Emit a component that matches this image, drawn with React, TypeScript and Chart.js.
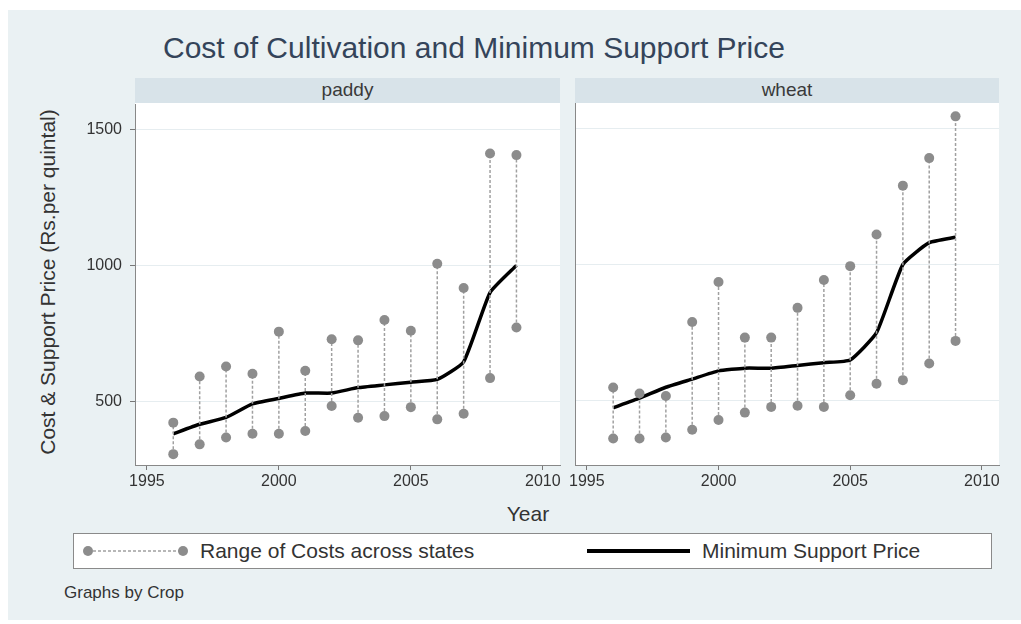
import React, { useEffect, useRef } from "react";
import { Chart, registerables } from "chart.js";
Chart.register(...registerables);

const years = [1996, 1997, 1998, 1999, 2000, 2001, 2002, 2003, 2004, 2005, 2006, 2007, 2008, 2009];

const paddyLow = [305, 341, 366, 380, 380, 390, 482, 439, 445, 478, 433, 454, 585, 771];
const paddyHigh = [421, 591, 628, 601, 756, 612, 728, 724, 799, 759, 1006, 917, 1412, 1406];
const paddyMSP = [380, 415, 440, 490, 510, 530, 530, 550, 560, 570, 580, 645, 900, 1000];

const wheatLow = [362, 362, 366, 394, 430, 457, 478, 482, 478, 521, 563, 576, 637, 720];
const wheatHigh = [549, 527, 518, 789, 936, 732, 732, 841, 943, 994, 1110, 1289, 1390, 1543];
const wheatMSP = [475, 510, 550, 580, 610, 620, 620, 630, 640, 650, 750, 1000, 1080, 1100];

const xTicks = [1995, 2000, 2005, 2010];
const yTicks = [500, 1000, 1500];

const FONT = "'Liberation Sans', Arial, sans-serif";

type PanelProps = {
  low: number[];
  high: number[];
  msp: number[];
  showY: boolean;
  left: number;
  width: number;
  top: number;
  height: number;
};

function Panel({ low, high, msp, showY, left, width, top, height }: PanelProps) {
  const ref = useRef<HTMLCanvasElement | null>(null);
  useEffect(() => {
    if (!ref.current) return;
    const rangeData: any[] = [];
    years.forEach((yr, i) => {
      rangeData.push({ x: yr, y: low[i] });
      rangeData.push({ x: yr, y: high[i] });
      rangeData.push({ x: yr, y: null });
    });
    const mspData = years.map((yr, i) => ({ x: yr, y: msp[i] }));
    const chart = new Chart(ref.current, {
      type: "line",
      data: {
        datasets: [
          {
            label: "Range of Costs across states",
            data: rangeData,
            borderColor: "#a0a0a0",
            borderWidth: 1.5,
            borderDash: [3, 2],
            pointRadius: 5,
            pointBackgroundColor: "#8c8c8c",
            pointBorderWidth: 0,
            spanGaps: false,
            tension: 0,
          },
          {
            label: "Minimum Support Price",
            data: mspData,
            borderColor: "#000000",
            borderWidth: 3.5,
            pointRadius: 0,
            tension: 0.15,
            borderJoinStyle: "round",
          },
        ],
      },
      options: {
        responsive: false,
        animation: false,
        layout: { padding: { top: 0, right: showY ? 5 : 6, left: 0, bottom: 0 } },
        plugins: { legend: { display: false }, tooltip: { enabled: false } },
        scales: {
          x: {
            type: "linear",
            min: 1994.55,
            max: 2010.65,
            afterBuildTicks: (s: any) => {
              s.ticks = xTicks.map((v) => ({ value: v }));
            },
            afterFit: (s: any) => {
              s.height = 30;
            },
            grid: { drawOnChartArea: false, drawTicks: true, tickLength: 5, tickColor: "#777" },
            border: { display: true, color: "#888", width: 1 },
            ticks: {
              color: "#333",
              font: { family: FONT, size: 16 },
              padding: 2,
              maxRotation: 0,
              callback: (v: any) => String(v),
            },
          },
          y: {
            type: "linear",
            min: 265,
            max: 1592,
            afterBuildTicks: (s: any) => {
              s.ticks = yTicks.map((v) => ({ value: v }));
            },
            afterFit: (s: any) => {
              s.width = showY ? 65 : 10;
            },
            grid: {
              color: "#e6edf0",
              lineWidth: 1,
              drawTicks: showY,
              tickLength: 5,
              tickColor: "#777",
            },
            border: { display: true, color: "#888", width: 1 },
            ticks: {
              display: showY,
              color: "#333",
              font: { family: FONT, size: 16 },
              padding: 8,
              callback: (v: any) => String(v),
            },
          },
        },
      },
    });
    return () => chart.destroy();
  }, []);
  return (
    <canvas
      ref={ref}
      width={width}
      height={height}
      style={{ position: "absolute", left, top, width, height }}
    />
  );
}

export default function App() {
  const text: React.CSSProperties = { position: "absolute", fontFamily: FONT, color: "#333", whiteSpace: "nowrap" };
  return (
    <div style={{ position: "absolute", left: 0, top: 0, width: 1021, height: 624, background: "#fff", overflow: "hidden" }}>
      <div style={{ position: "absolute", left: 8, top: 10, width: 1013, height: 610, background: "#eaf1f3" }} />
      <div style={{ ...text, left: 163, top: 31, fontSize: 30, lineHeight: "34px", color: "#34445a" }}>
        Cost of Cultivation and Minimum Support Price
      </div>
      <div style={{ position: "absolute", left: 135, top: 78, width: 425, height: 25, background: "#d8e3e9" }} />
      <div style={{ position: "absolute", left: 575, top: 78, width: 424, height: 25, background: "#d8e3e9" }} />
      <div style={{ position: "absolute", left: 135, top: 103, width: 425, height: 362, background: "#fff" }} />
      <div style={{ position: "absolute", left: 575, top: 103, width: 424, height: 362, background: "#fff" }} />
      <div style={{ ...text, left: 135, top: 78, width: 425, textAlign: "center", fontSize: 19, lineHeight: "24px", color: "#3a3a3a" }}>paddy</div>
      <div style={{ ...text, left: 575, top: 78, width: 424, textAlign: "center", fontSize: 19, lineHeight: "24px", color: "#3a3a3a" }}>wheat</div>
      <Panel low={paddyLow} high={paddyHigh} msp={paddyMSP} showY={true} left={70} width={495} top={87} height={408} />
      <Panel low={wheatLow} high={wheatHigh} msp={wheatMSP} showY={false} left={565} width={440} top={98} height={397} />
      <div
        style={{
          ...text,
          left: 48 - 200,
          top: 282 - 12,
          width: 400,
          textAlign: "center",
          fontSize: 21,
          lineHeight: "24px",
          transform: "rotate(-90deg)",
        }}
      >
        Cost &amp; Support Price (Rs.per quintal)
      </div>
      <div style={{ ...text, left: 478, top: 502, width: 100, textAlign: "center", fontSize: 21, lineHeight: "24px" }}>Year</div>
      <div style={{ position: "absolute", left: 73, top: 533, width: 917, height: 34, background: "#fff", border: "1px solid #8a8a8a" }} />
      <svg style={{ position: "absolute", left: 73, top: 533 }} width={920} height={36}>
        <line x1={15} y1={18} x2={110} y2={18} stroke="#a0a0a0" strokeWidth={1.5} strokeDasharray="3 2" />
        <circle cx={15} cy={18} r={5} fill="#8c8c8c" />
        <circle cx={110} cy={18} r={5} fill="#8c8c8c" />
        <line x1={514} y1={18} x2={617} y2={18} stroke="#000" strokeWidth={4} />
      </svg>
      <div style={{ ...text, left: 200, top: 537, fontSize: 21, lineHeight: "28px" }}>Range of Costs across states</div>
      <div style={{ ...text, left: 702, top: 537, fontSize: 21, lineHeight: "28px" }}>Minimum Support Price</div>
      <div style={{ ...text, left: 64, top: 582, fontSize: 17, lineHeight: "22px" }}>Graphs by Crop</div>
    </div>
  );
}
